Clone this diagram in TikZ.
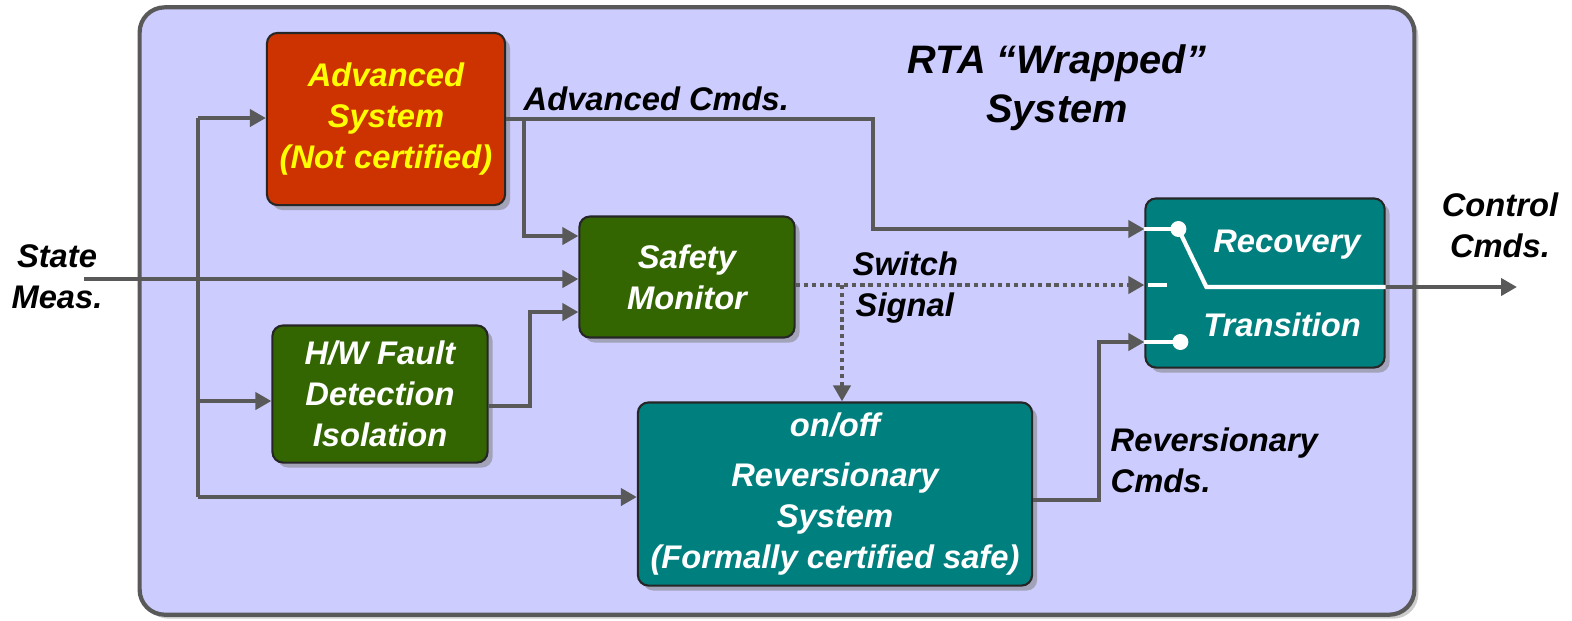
\documentclass[tikz,border=0pt]{standalone}
\usepackage{fontspec}
\setmainfont{Liberation Sans}
\usetikzlibrary{arrows.meta,shadows}

\definecolor{wrapbg}{HTML}{CCCCFF}
\definecolor{advred}{HTML}{CC3300}
\definecolor{monigreen}{HTML}{336600}
\definecolor{revteal}{HTML}{007F7F}
\definecolor{wiregray}{HTML}{595959}
\definecolor{advyellow}{HTML}{FFFF00}

\newcommand{\boxfont}{\bfseries\itshape\fontsize{9.3}{11.7}\selectfont}
\newcommand{\titlefont}{\bfseries\itshape\fontsize{11.3}{14}\selectfont}

\newcommand{\swcontact}[2]{
	\draw[color=white, line width=1.2pt] (#1) -- ++(#2,0) coordinate (#1dot);
	\fill[color=white] (#1dot) circle[radius=0.08cm];
}

\tikzset{
	blk/.style={draw=black!85, line width=0.6pt, rounded corners=3pt, text=white, align=center, inner sep=0pt, font=\boxfont,
		drop shadow={shadow xshift=0.05cm, shadow yshift=-0.05cm, fill=black!50, opacity=0.55}},
	wire/.style={color=wiregray, line width=1.2pt},
	arr/.style={wire, -{Triangle[length=0.16cm,width=0.17cm]}},
	sig/.style={arr, dash pattern=on 1.2pt off 1.1pt},
	lbl/.style={font=\boxfont, align=center, inner sep=0pt}
}

\begin{document}
\begin{tikzpicture}[x=0.01cm, y=-0.01cm]
\useasboundingbox (0,0) rectangle (1572,620);

\pgfmathsetmacro{\busX}{198}
\pgfmathsetmacro{\busTop}{118}
\pgfmathsetmacro{\busHw}{401}
\pgfmathsetmacro{\busBot}{497}

% wrapper
\node[draw=black!65, line width=1.2pt, fill=wrapbg, rounded corners=0.25cm, minimum width=12.74cm, minimum height=6.07cm,
	drop shadow={shadow xshift=0.04cm, shadow yshift=-0.04cm, fill=black!40, opacity=0.5}] (wrap) at (777,311) {};
\node[lbl, font=\titlefont, anchor=north] (ttl) at (1057,44) {RTA “Wrapped”\\System};

% blocks
\node[blk, fill=advred, text=advyellow, minimum width=2.38cm, minimum height=1.72cm] (adv) at (386,119) {Advanced\\System\\(Not certified)};
\node[blk, fill=monigreen, minimum width=2.15cm, minimum height=1.21cm] (mon) at (687,277) {Safety\\Monitor};
\node[blk, fill=monigreen, minimum width=2.15cm, minimum height=1.37cm] (hw) at (380,394) {H/W Fault\\Detection\\Isolation};
\node[blk, fill=revteal, minimum width=3.94cm, minimum height=1.83cm] (rev) at (835,494) {on/off\\[2.5pt]Reversionary\\System\\(Formally certified safe)};
\node[blk, fill=revteal, minimum width=2.39cm, minimum height=1.69cm] (rec) at (1265,283) {};
\node[lbl, text=white] (recT) at (1287,245) {Recovery};
\node[lbl, text=white] (trnT) at (1282,325) {Transition};

% ports
\path (rec.west) ++(0,-54) coordinate (inA);
\path (rec.west) ++(0,2) coordinate (inB);
\path (rec.west) ++(0,59) coordinate (inC);
\path (rec.east) ++(0,4) coordinate (swOut);
\path (mon.west) ++(0,-41) coordinate (monA);
\path (mon.west) ++(0,35) coordinate (monC);

% switch
\swcontact{inA}{34}
\swcontact{inC}{36}
\draw[color=white, line width=1.2pt] ([xshift=0.04cm]inB) -- ++(19,0);
\draw[color=white, line width=1.2pt] (inAdot) -- ++(28,58) -- (swOut);

% input bus
\coordinate (stIn) at (84,279);
\coordinate (busT) at (\busX,\busTop);
\coordinate (busH) at (\busX,\busHw);
\coordinate (busB) at (\busX,\busBot);
\draw[wire] (busT) -- (busB);
\draw[arr] (busT) -- (busT -| adv.west);
\draw[arr] (busH) -- (busH -| hw.west);
\draw[arr] (busB) -- (busB -| rev.west);
\draw[arr] (stIn) -- (stIn -| mon.west);
\node[lbl, anchor=north] (stLbl) at (57,244) {State\\Meas.};

% commands
\coordinate (acTurn) at (873,229);
\coordinate (brA) at (524,119);
\draw[arr] (adv.east) -| (acTurn) -- (inA);
\draw[arr] (brA) |- (monA);
\draw[arr] ([yshift=-0.12cm]hw.east) -- ++(41,0) |- (monC);
\node[lbl, anchor=base west] (acLbl) at (523,110) {Advanced Cmds.};

\coordinate (rcTurn) at (1099,342);
\draw[arr] ([yshift=-0.06cm]rev.east) -| (rcTurn) -- (inC);
\node[lbl, align=left, anchor=north west] (rcLbl) at (1110,427) {Reversionary\\Cmds.};

% switch signal
\coordinate (sigBr) at (842,285);
\draw[sig] (inB -| mon.east) -- (inB);
\draw[sig] (sigBr) -- (sigBr |- rev.north);
\node[lbl, anchor=base west] (swLbl) at (852,275) {Switch};
\node[lbl, anchor=base west] (sgLbl) at (855,316) {Signal};

% output
\coordinate (outEnd) at (1517,287);
\draw[arr] (swOut) -- (outEnd);
\node[lbl, anchor=north] (outLbl) at (1500,192) {Control\\Cmds.};
\end{tikzpicture}
\end{document}
